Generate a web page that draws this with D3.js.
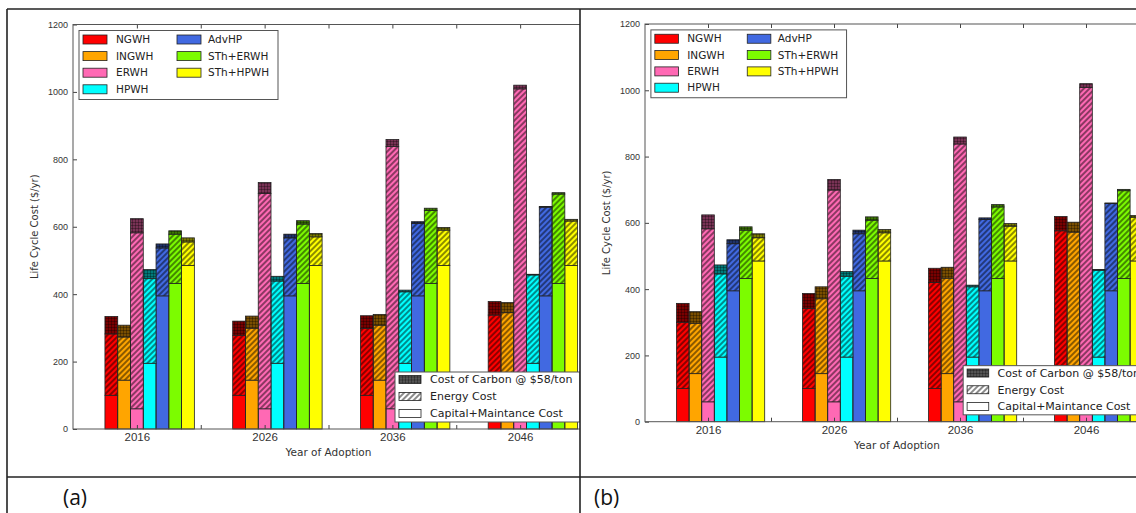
<!DOCTYPE html>
<html>
<head>
<meta charset="utf-8">
<script src="https://cdn.jsdelivr.net/npm/d3@7"></script>
<style>
  body { margin: 0; background: #fff; }
  svg { display: block; font-family: "DejaVu Sans", sans-serif; }
</style>
</head>
<body>
<svg id="fig" width="1136" height="513"></svg>
<script>
const years = ["2016", "2026", "2036", "2046"];
const techs = ["NGWH", "INGWH", "ERWH", "HPWH", "AdvHP", "STh+ERWH", "STh+HPWH"];
const techColors = ["#ff0000", "#ffa500", "#ff69b4", "#00ffff", "#4169e1", "#7cfc00", "#ffff00"];
const costParts = ["Cost of Carbon @ $58/ton", "Energy Cost", "Capital+Maintance Cost"];
const yTicks = [0, 200, 400, 600, 800, 1000, 1200];

// capital + maintenance, same for every year ($/yr)
const capital = [100, 145, 60, 195, 395, 432, 485];

// panel (a): one row per year, one value per tech
const energyA = [
  [182, 128, 522, 251, 142, 146, 70],
  [178, 154, 639, 244, 172, 176, 85],
  [198, 163, 778, 212, 215, 216, 105],
  [238, 200, 949, 262, 263, 265, 132]
];
const carbonA = [
  [52, 35, 42, 27, 12, 10, 12],
  [42, 36, 32, 14, 11, 10, 10],
  [38, 32, 21, 5, 5, 7, 8],
  [40, 30, 11, 2, 2, 4, 5]
];

// panel (b): gas heaters get costlier
const energyB = [
  [200, 152, 522, 251, 142, 146, 70],
  [242, 226, 639, 244, 172, 176, 85],
  [320, 288, 778, 212, 215, 216, 105],
  [476, 427, 949, 262, 263, 265, 132]
];
const carbonB = [
  [57, 35, 42, 27, 12, 10, 12],
  [45, 36, 32, 14, 11, 10, 10],
  [43, 33, 21, 5, 5, 7, 8],
  [43, 30, 11, 2, 2, 4, 5]
];

const svg = d3.select("#fig");
const defs = svg.append("defs");

// energy = diagonal hatch, carbon = dense cross hatch
defs.append("pattern")
  .attr("id", "hatch")
  .attr("patternUnits", "userSpaceOnUse")
  .attr("width", 4).attr("height", 4)
  .attr("patternTransform", "rotate(45)")
  .append("line")
  .attr("x1", 1).attr("y1", 0).attr("x2", 1).attr("y2", 4)
  .attr("stroke", "#000").attr("stroke-width", 1.3).attr("stroke-opacity", 0.7);

defs.append("pattern")
  .attr("id", "cross")
  .attr("patternUnits", "userSpaceOnUse")
  .attr("width", 3).attr("height", 3)
  .append("path")
  .attr("d", "M0,0.5H3M0.5,0V3")
  .attr("fill", "none")
  .attr("stroke", "#000").attr("stroke-width", 1).attr("stroke-opacity", 0.3);

const panels = [
  { id: "a", left: 73, right: 584, top: 24.5, bottom: 429, clip: [7, 580], energy: energyA, carbon: carbonA, labelX: 63 },
  { id: "b", left: 645, right: 1149, top: 24, bottom: 421.7, clip: [580, 1136], energy: energyB, carbon: carbonB, labelX: 594 }
];

panels.forEach(p => drawPanel(p));

function drawPanel(p) {
  const k = (p.bottom - p.top) / 404.5;

  defs.append("clipPath").attr("id", "clip-" + p.id)
    .append("rect")
    .attr("x", p.clip[0]).attr("y", 0)
    .attr("width", p.clip[1] - p.clip[0]).attr("height", 476);

  const g = svg.append("g").attr("clip-path", `url(#clip-${p.id})`);

  const x = d3.scaleLinear().domain([-0.5, 3.5]).range([p.left, p.right]);
  const y = d3.scaleLinear().domain([0, 1200]).range([p.bottom, p.top]);
  const bw = x(0.1) - x(0);

  const rows = [];
  years.forEach((yr, gi) => {
    techs.forEach((t, ti) => {
      rows.push({ g: gi, t: ti, capital: capital[ti], energy: p.energy[gi][ti], carbon: p.carbon[gi][ti] });
    });
  });

  const layers = d3.stack().keys(["capital", "energy", "carbon"])(rows);
  const barX = d => x(d.data.g + (d.data.t - 2.5) * 0.1);

  layers.forEach(layer => {
    const bars = g.append("g");
    bars.selectAll("rect.base")
      .data(layer)
      .join("rect")
      .attr("class", "base")
      .attr("x", barX)
      .attr("y", d => y(d[1]))
      .attr("width", bw)
      .attr("height", d => y(d[0]) - y(d[1]))
      .attr("fill", d => layer.key === "carbon"
        ? d3.color(techColors[d.data.t]).darker(2.1)
        : techColors[d.data.t]);

    if (layer.key !== "capital") {
      bars.selectAll("rect.pat")
        .data(layer)
        .join("rect")
        .attr("class", "pat")
        .attr("x", barX)
        .attr("y", d => y(d[1]))
        .attr("width", bw)
        .attr("height", d => y(d[0]) - y(d[1]))
        .attr("fill", layer.key === "energy" ? "url(#hatch)" : "url(#cross)");
    }

    bars.selectAll("rect.edge")
      .data(layer)
      .join("rect")
      .attr("class", "edge")
      .attr("x", barX)
      .attr("y", d => y(d[1]))
      .attr("width", bw)
      .attr("height", d => y(d[0]) - y(d[1]))
      .attr("fill", "none")
      .attr("stroke", "#222")
      .attr("stroke-width", 0.8);
  });

  // axes, matplotlib classic style: ticks pointing in
  const xTickVals = d3.range(0, 3.51, 0.5);
  const yAx = g.append("g")
    .attr("transform", `translate(${p.left},0)`)
    .call(d3.axisLeft(y).tickValues(yTicks).tickFormat(d3.format("d"))
      .tickSizeInner(-4).tickSizeOuter(0).tickPadding(5));
  yAx.selectAll("text").attr("font-size", 9).attr("fill", "#333");

  g.append("g")
    .attr("transform", `translate(${p.right},0)`)
    .call(d3.axisRight(y).tickValues(yTicks).tickSizeInner(-4).tickSizeOuter(0).tickFormat(""));

  const xAx = g.append("g")
    .attr("transform", `translate(0,${p.bottom})`)
    .call(d3.axisBottom(x).tickValues(xTickVals).tickSizeInner(-4).tickSizeOuter(0).tickPadding(4)
      .tickFormat(d => Number.isInteger(d) ? years[d] : ""));
  xAx.selectAll("text").attr("font-size", 11.5).attr("fill", "#333");

  g.append("g")
    .attr("transform", `translate(0,${p.top})`)
    .call(d3.axisTop(x).tickValues(xTickVals).tickSizeInner(-4).tickSizeOuter(0).tickFormat(""));

  g.selectAll(".domain").remove();
  g.selectAll(".tick line").attr("stroke", "#444");

  g.append("rect")
    .attr("x", p.left).attr("y", p.top)
    .attr("width", p.right - p.left).attr("height", p.bottom - p.top)
    .attr("fill", "none").attr("stroke", "#555").attr("stroke-width", 1);

  g.append("text")
    .attr("x", (p.left + p.right) / 2)
    .attr("y", p.bottom + 27)
    .attr("text-anchor", "middle")
    .attr("font-size", 10.5)
    .attr("fill", "#333")
    .text("Year of Adoption");

  g.append("text")
    .attr("transform", `translate(${p.left - 35},${(p.top + p.bottom) / 2}) rotate(-90)`)
    .attr("text-anchor", "middle")
    .attr("font-size", 10)
    .attr("fill", "#333")
    .text("Life Cycle Cost ($/yr)");

  // tech legend, two columns
  const lx = p.left + 6 * k, ly = p.top + 6 * k;
  const leg = g.append("g").attr("transform", `translate(${lx},${ly})`);
  leg.append("rect")
    .attr("width", 199 * k).attr("height", 69 * k)
    .attr("fill", "#fff").attr("stroke", "#555").attr("stroke-width", 1);
  techs.forEach((t, i) => {
    const col = i < 4 ? 0 : 1;
    const row = i < 4 ? i : i - 4;
    const item = leg.append("g")
      .attr("transform", `translate(${(4 + col * 94) * k},${(9 + row * 16.6) * k})`);
    item.append("rect")
      .attr("x", 0).attr("y", -4.5)
      .attr("width", 24 * k).attr("height", 9)
      .attr("fill", techColors[i]).attr("stroke", "#222").attr("stroke-width", 0.8);
    item.append("text")
      .attr("x", (col ? 31 : 33) * k).attr("y", 0).attr("dy", "0.35em")
      .attr("font-size", 10.5).attr("fill", "#222")
      .text(t);
  });

  // cost component legend, lower right
  const bx = p.right - 189 * k, by = p.bottom - 57 * k;
  const leg2 = g.append("g").attr("transform", `translate(${bx},${by})`);
  leg2.append("rect")
    .attr("width", 185 * k).attr("height", 50 * k)
    .attr("fill", "#fff").attr("stroke", "#555").attr("stroke-width", 1);
  const partFills = ["url(#cross)", "url(#hatch)", "none"];
  costParts.forEach((c, i) => {
    const item = leg2.append("g").attr("transform", `translate(${4 * k},${(7.5 + i * 17) * k})`);
    item.append("rect")
      .attr("y", -4).attr("width", 22 * k).attr("height", 8)
      .attr("fill", i === 0 ? "#555" : "#fff");
    item.append("rect")
      .attr("y", -4).attr("width", 22 * k).attr("height", 8)
      .attr("fill", partFills[i]).attr("stroke", "#222").attr("stroke-width", 0.8);
    item.append("text")
      .attr("x", 31 * k).attr("dy", "0.35em")
      .attr("font-size", 11).attr("fill", "#222")
      .text(c);
  });

  svg.append("text")
    .attr("x", p.labelX).attr("y", 505)
    .attr("font-family", "Open Sans, sans-serif")
    .attr("font-size", 21)
    .attr("fill", "#111")
    .text(`(${p.id})`);
}

// figure frame
const frame = svg.append("g").attr("stroke", "#222").attr("stroke-width", 1.6).attr("fill", "none");
frame.append("line").attr("x1", 7).attr("y1", 9).attr("x2", 1136).attr("y2", 9);
frame.append("line").attr("x1", 7).attr("y1", 9).attr("x2", 7).attr("y2", 513);
frame.append("line").attr("x1", 580).attr("y1", 9).attr("x2", 580).attr("y2", 513);
frame.append("line").attr("x1", 7).attr("y1", 477).attr("x2", 1136).attr("y2", 477);
</script>
</body>
</html>
